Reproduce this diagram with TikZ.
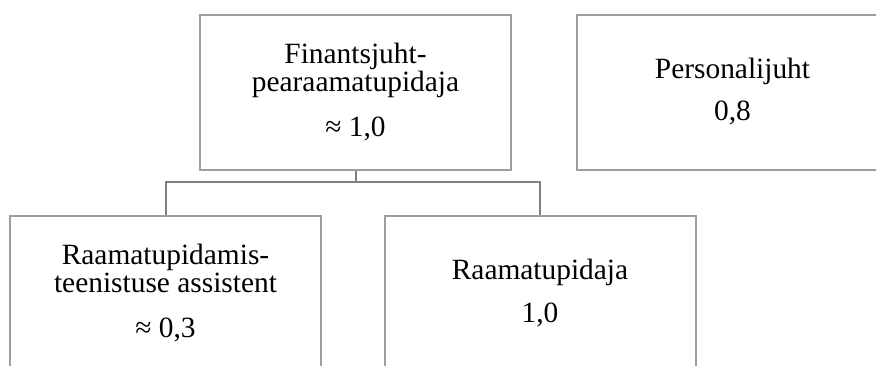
\documentclass[tikz,border=0pt]{standalone}
\usepackage{fontspec}
\setmainfont{Liberation Serif}
\usepackage{tikz}
\usetikzlibrary{positioning}
\tikzstyle{box}  = [rectangle, draw=black!38, line width=1pt, inner sep=0pt, minimum width=155.5pt, minimum height=77.5pt, align=center, font=\fontsize{14.7}{14}\selectfont]
\tikzstyle{link} = [draw=black!50, line width=1pt]

\begin{document}
\begin{tikzpicture}[x=0.5pt,y=-0.5pt]
        \useasboundingbox (0,0) rectangle (876,365);
        \clip (0,0) rectangle (876,365);

        \node[box] (fin)    at (355.5,92)  {Finantsjuht-\\pearaamatupidaja\\[8.5pt]≈ 1,0};
        \node[box] (pers)   at (732.5,92)  {Personalijuht\\[7pt]0,8};
        \node[box] (assist) at (165.5,293) {Raamatupidamis-\\teenistuse assistent\\[8.5pt]≈ 0,3};
        \node[box] (rp)     at (540,293)   {Raamatupidaja\\[7.5pt]1,0};

        \coordinate (bus) at (355.5,182);
        \draw[link] (fin.south) -- (bus) -| (assist.north);
        \draw[link] (bus) -| (rp.north);
    \end{tikzpicture}
\end{document}
